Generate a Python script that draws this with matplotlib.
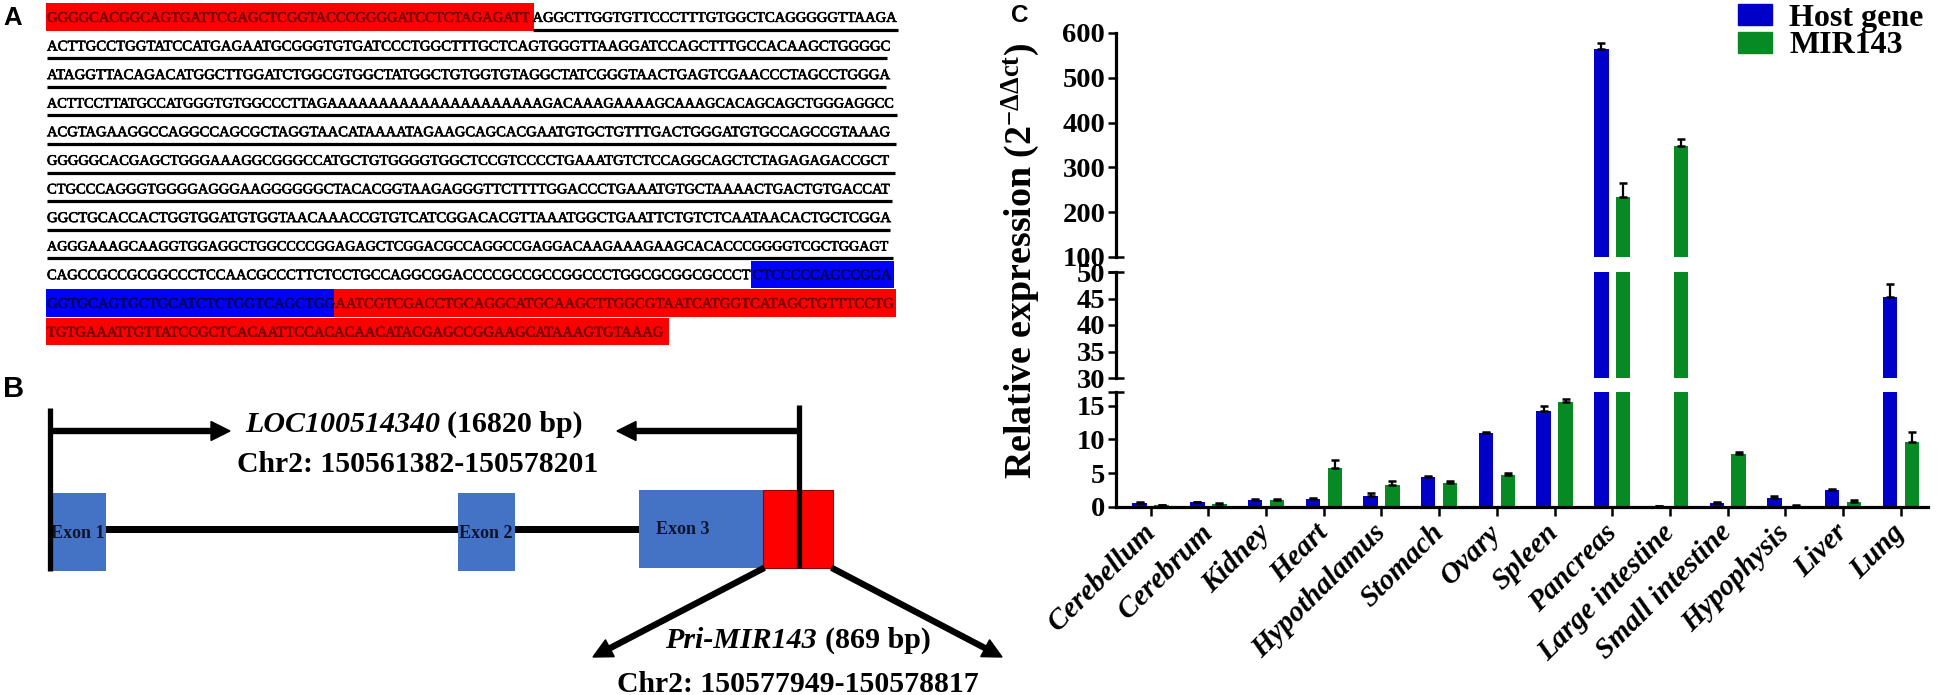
import matplotlib
matplotlib.use('Agg')
import matplotlib.pyplot as plt
from matplotlib.patches import Rectangle, FancyArrow
import matplotlib.patheffects as pe
import numpy as np

plt.rcParams['font.family'] = ['Liberation Serif', 'DejaVu Serif']
plt.rcParams['font.weight'] = 'bold'
plt.rcParams['mathtext.fontset'] = 'custom'
plt.rcParams['mathtext.rm'] = 'Liberation Serif:bold'
plt.rcParams['mathtext.it'] = 'Liberation Serif:italic:bold'
plt.rcParams['mathtext.bf'] = 'Liberation Serif:bold'

# ---------------- data (panel C) ----------------
tissues = ['Cerebellum', 'Cerebrum', 'Kidney', 'Heart', 'Hypothalamus', 'Stomach',
           'Ovary', 'Spleen', 'Pancreas', 'Large intestine', 'Small intestine',
           'Hypophysis', 'Liver', 'Lung']
host_gene = [0.6, 0.7, 1.1, 1.2, 1.7, 4.4, 11.0, 14.2, 565, 0.1, 0.6, 1.3, 2.5, 45.2]
host_err = [0.1, 0.1, 0.15, 0.15, 0.3, 0.2, 0.05, 0.7, 12, 0.0, 0.1, 0.3, 0.15, 2.6]
mir143 = [0.3, 0.5, 1.0, 5.8, 3.3, 3.6, 4.7, 15.5, 235, 347, 7.9, 0.2, 0.8, 9.6]
mir_err = [0.05, 0.1, 0.15, 1.1, 0.6, 0.3, 0.3, 0.5, 30, 17, 0.2, 0.05, 0.2, 1.5]
ticks_top = [100, 200, 300, 400, 500, 600]
ticks_mid = [30, 35, 40, 45, 50]
ticks_bot = [0, 5, 10, 15]
legend_labels = ['Host gene', 'MIR143']

# ---------------- data (panel A) ----------------
seq_rows = [
    [("GGGGCACGGCAGTGATTCGAGCTCGGTACCCGGGGATCCTCTAGAGATT", "red"),
     ("AGGCTTGGTGTTCCCTTTGTGGCTCAGGGGGTTAAGA", "plain")],
    [("ACTTGCCTGGTATCCATGAGAATGCGGGTGTGATCCCTGGCTTTGCTCAGTGGGTTAAGGATCCAGCTTTGCCACAAGCTGGGGC", "plain")],
    [("ATAGGTTACAGACATGGCTTGGATCTGGCGTGGCTATGGCTGTGGTGTAGGCTATCGGGTAACTGAGTCGAACCCTAGCCTGGGA", "plain")],
    [("ACTTCCTTATGCCATGGGTGTGGCCCTTAGAAAAAAAAAAAAAAAAAAAAAGACAAAGAAAAGCAAAGCACAGCAGCTGGGAGGCC", "plain")],
    [("ACGTAGAAGGCCAGGCCAGCGCTAGGTAACATAAAATAGAAGCAGCACGAATGTGCTGTTTGACTGGGATGTGCCAGCCGTAAAG", "plain")],
    [("GGGGGCACGAGCTGGGAAAGGCGGGCCATGCTGTGGGGTGGCTCCGTCCCCTGAAATGTCTCCAGGCAGCTCTAGAGAGACCGCT", "plain")],
    [("CTGCCCAGGGTGGGGAGGGAAGGGGGGCTACACGGTAAGAGGGTTCTTTTGGACCCTGAAATGTGCTAAAACTGACTGTGACCAT", "plain")],
    [("GGCTGCACCACTGGTGGATGTGGTAACAAACCGTGTCATCGGACACGTTAAATGGCTGAATTCTGTCTCAATAACACTGCTCGGA", "plain")],
    [("AGGGAAAGCAAGGTGGAGGCTGGCCCCGGAGAGCTCGGACGCCAGGCCGAGGACAAGAAAGAAGCACACCCGGGGTCGCTGGAGT", "plain")],
    [("CAGCCGCCGCGGCCCTCCAACGCCCTTCTCCTGCCAGGCGGACCCCGCCGCCGGCCCTGGCGCGGCGCCCT", "plain"),
     ("CTCCCCCAGCCGGA", "blue")],
    [("GGTGCAGTGCTGCATCTCTGGTCAGCTGG", "blue"),
     ("AATCGTCGACCTGCAGGCATGCAAGCTTGGCGTAATCATGGTCATAGCTGTTTCCTG", "red")],
    [("TGTGAAATTGTTATCCGCTCACAATTCCACACAACATACGAGCCGGAAGCATAAAGTGTAAAG", "red")],
]

# ---------------- data (panel B) ----------------
gene_label = [("LOC100514340", "italic"), ("(16820 bp)", "normal")]
gene_coords = "Chr2: 150561382-150578201"
pri_label = [("Pri-MIR143", "italic"), ("(869 bp)", "normal")]
pri_coords = "Chr2: 150577949-150578817"
exon_names = ['Exon 1', 'Exon 2', 'Exon 3']

W, H = 1950, 695
fig = plt.figure(figsize=(W / 100, H / 100), dpi=100)
ax0 = fig.add_axes([0, 0, 1, 1])
ax0.set_xlim(0, W)
ax0.set_ylim(H, 0)
ax0.axis('off')
ax0.patch.set_visible(False)
R = fig.canvas.get_renderer()


def width_of(t):
    return t.get_window_extent(renderer=R).width


def px(fs):
    return fs * 100 / 72.0


# ---------------- panel labels ----------------
ax0.text(3, 25, 'A', family='Liberation Sans', weight='bold', fontsize=18.5, ha='left', va='baseline')
ax0.text(3, 397, 'B', family='Liberation Sans', weight='bold', fontsize=21, ha='left', va='baseline')
ax0.text(1011, 22, 'C', family='Liberation Sans', weight='bold', fontsize=17.5, ha='left', va='baseline')

# ---------------- panel A ----------------
x0 = 47
row_y0, row_dy = 17.0, 28.6
bg = {'red': '#FF0000', 'blue': '#0000FF'}
fg = {'red': '#7A0000', 'blue': '#00005C', 'plain': 'black'}
row_fs = []
for i, row in enumerate(seq_rows):
    full = ''.join(s for s, _ in row)
    probe = ax0.text(0, 0, full, fontsize=10, weight='normal')
    target = (893 if len(full) >= 86 else 890) - x0
    row_fs.append(10 * target / width_of(probe))
    probe.remove()
base_fs = float(np.median(row_fs[:-1]))
row_fs[-1] = base_fs
stroke = [pe.withStroke(linewidth=0.6, foreground='black')]
for i, row in enumerate(seq_rows):
    fs = row_fs[i]
    cap = 0.662 * px(fs)
    yc = row_y0 + i * row_dy
    x = x0
    for seg, style in row:
        t = ax0.text(x, yc + cap / 2, seg, fontsize=fs, weight='normal',
                     color=fg[style], ha='left', va='baseline', zorder=3,
                     path_effects=[pe.withStroke(linewidth=0.5, foreground=fg[style])])
        w = width_of(t)
        if style in bg:
            ax0.add_patch(Rectangle((x - 1.5, yc - 13.8), w + 3, 27.6,
                                    facecolor=bg[style], edgecolor='none', zorder=1))
        elif i < 9:
            ax0.plot([x, x + w], [yc + 12.5, yc + 12.5], color='k', lw=2.3,
                     solid_capstyle='butt', zorder=2)
        x += w


# ---------------- panel B ----------------
def draw_segments(segs, xc, yb, fs, gap_em=0.25):
    texts = [ax0.text(0, yb, s, fontsize=fs, weight='bold', style=st,
                      ha='left', va='baseline', zorder=4) for s, st in segs]
    ws = [width_of(t) for t in texts]
    gap = gap_em * px(fs)
    total = sum(ws) + gap * (len(ws) - 1)
    x = xc - total / 2
    for t, w in zip(texts, ws):
        t.set_x(x)
        x += w + gap
    return texts, total


tmp, tw = draw_segments(gene_label, 0, 0, 20)
for t in tmp:
    t.remove()
lab_fs = 20 * 338 / tw
probe = ax0.text(0, 0, gene_coords, fontsize=20, weight='bold')
coord_fs = 20 * 360 / width_of(probe)
probe.remove()

draw_segments(gene_label, 414, 432, lab_fs)
ax0.text(418, 472, gene_coords, fontsize=coord_fs, weight='bold', ha='center', va='baseline')
draw_segments(pri_label, 798, 648, lab_fs)
ax0.text(798, 692, pri_coords, fontsize=coord_fs, weight='bold', ha='center', va='baseline')

# intron line
ax0.add_patch(Rectangle((106, 526), 639 - 106, 7, facecolor='black', edgecolor='none', zorder=1))
exon_col = '#4472C4'
exons = [(53, 493, 53, 78), (458, 493, 57, 78), (639, 490, 124, 78)]
for (ex, ey, ew, eh) in exons:
    ax0.add_patch(Rectangle((ex, ey), ew, eh, facecolor=exon_col, edgecolor='none', zorder=2))
exon_text_x = [78, 486, 683]
for name, (ex, ey, ew, eh), tx in zip(exon_names, exons, exon_text_x):
    ax0.text(tx, ey + eh / 2 + 1, name, fontsize=13, weight='bold', color='#0D1430',
             ha='center', va='center', zorder=3)
ax0.add_patch(Rectangle((763, 490), 70, 78, facecolor='#FF0000', edgecolor='#900000',
                        lw=0.8, zorder=2))
ax0.plot([50, 50], [408, 571], color='k', lw=3.8, solid_capstyle='butt', zorder=5)
ax0.plot([799, 799], [405, 568], color='k', lw=3.8, solid_capstyle='butt', zorder=5)
akw = dict(width=5, head_width=19, head_length=19, length_includes_head=True,
           color='k', zorder=5)
ax0.add_patch(FancyArrow(50, 431, 180, 0, **akw))
ax0.add_patch(FancyArrow(799, 431, 617 - 799, 0, **akw))
ax0.add_patch(FancyArrow(764, 568, 593 - 764, 657 - 568, **akw))
ax0.add_patch(FancyArrow(832, 568, 170, 89, **akw))

# ---------------- panel C ----------------
SX, SW = 1116, 812


def rect(ytop, ybot):
    return [SX / W, (H - ybot) / H, SW / W, (ybot - ytop) / H]


ax_top = fig.add_axes(rect(33, 257))
ax_mid = fig.add_axes(rect(272, 378))
ax_bot = fig.add_axes(rect(392, 507))
blue, green = '#0000C8', '#078A24'
xpos = np.arange(len(tissues))
off, bw = 0.19, 0.25
zeros = np.zeros(len(tissues))
for ax, lim, tk in [(ax_top, (100, 600), ticks_top), (ax_mid, (30, 50), ticks_mid),
                    (ax_bot, (0, 17), ticks_bot)]:
    ax.set_facecolor('none')
    ax.bar(xpos - off, host_gene, bw, color=blue, zorder=2)
    ax.bar(xpos + off, mir143, bw, color=green, zorder=2)
    ax.errorbar(xpos - off, host_gene, yerr=[zeros, host_err], fmt='none', ecolor='k',
                elinewidth=1.6, capsize=2.8, capthick=1.8, zorder=3)
    ax.errorbar(xpos + off, mir143, yerr=[zeros, mir_err], fmt='none', ecolor='k',
                elinewidth=1.6, capsize=2.8, capthick=1.8, zorder=3)
    ax.set_xlim(-0.60, 13.47)
    ax.set_ylim(*lim)
    ax.set_yticks(tk, labels=[str(v) for v in tk], fontsize=20.5, fontweight='bold',
                  fontfamily='Liberation Serif')
    for s in ['top', 'right']:
        ax.spines[s].set_visible(False)
    ax.spines['left'].set_linewidth(2.3)
    ax.tick_params(axis='y', direction='out', length=5.8, width=1.8, pad=2)
    if ax is not ax_bot:
        ax.spines['bottom'].set_visible(False)
        ax.set_xticks([])

ax_bot.spines['bottom'].set_linewidth(2.3)
ax_bot.set_xticks(xpos)
ax_bot.set_xticklabels(tissues, rotation=45, ha='right', va='center', rotation_mode='anchor',
                       fontstyle='italic', fontweight='bold', fontsize=21,
                       fontfamily='Liberation Serif')
ax_bot.tick_params(axis='x', direction='out', length=6.5, width=1.8, pad=9)

# break marks at segment ends
for yb_, left in [(257, False), (272, True), (378, False), (392, True)]:
    ax0.plot([SX - (8 if left else 0), SX + 8], [yb_, yb_], color='k', lw=1.8,
             solid_capstyle='butt', zorder=6)

# y label
ylab = r'Relative expression (2$^{\mathrm{-\Delta\Delta ct}}$)'
probe = ax0.text(0, 0, ylab, fontsize=20, weight='bold', rotation=90)
yl_fs = 20 * 437 / probe.get_window_extent(renderer=R).height
probe.remove()
ax0.text(1021, 261, ylab, fontsize=yl_fs, weight='bold', rotation=90, ha='center', va='center')

handles = [Rectangle((0, 0), 1, 1, color=blue), Rectangle((0, 0), 1, 1, color=green)]
fig.legend(handles, legend_labels, loc='upper left', bbox_to_anchor=(1738 / W, 1 - 4 / H),
           frameon=False, prop=dict(family='Liberation Serif', weight='bold', size=23),
           handlelength=1.05, handleheight=0.62, handletextpad=0.55, labelspacing=-0.05,
           borderpad=0, borderaxespad=0)

fig.savefig('out.png', dpi=100)
